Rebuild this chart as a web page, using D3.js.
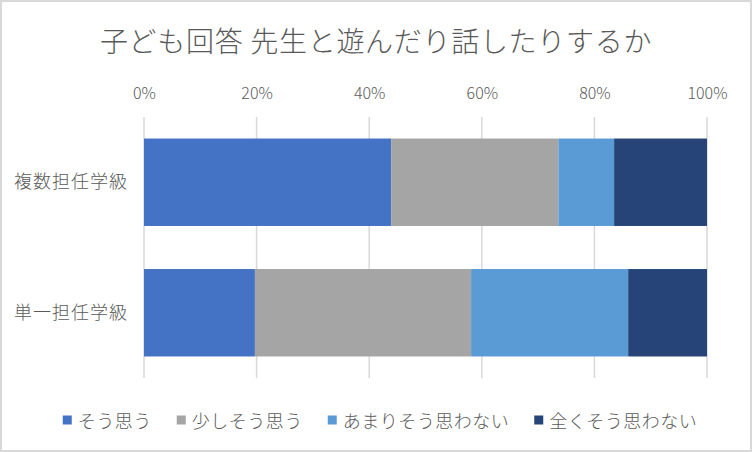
<!DOCTYPE html>
<html>
<head>
<meta charset="utf-8">
<script src="https://cdn.jsdelivr.net/npm/d3@7"></script>
<style>
  body { margin: 0; background: #fff; }
  text { font-family: "Noto Sans CJK JP", "Noto Sans", sans-serif; fill: #595959; font-weight: 300; }
</style>
</head>
<body>
<div id="chart"></div>
<script>
// data (percent)
var categories = ["複数担任学級", "単一担任学級"];
var seriesNames = ["そう思う", "少しそう思う", "あまりそう思わない", "全くそう思わない"];
var seriesColors = ["#4472C4", "#A5A5A5", "#5B9BD5", "#264478"];
var soOmou      = [43.9, 19.7];
var sukoshi     = [29.7, 38.4];
var amari       = [9.9, 27.9];
var mattaku     = [16.5, 14.0];
var tickValues  = [0, 20, 40, 60, 80, 100];

var W = 752, H = 452;
var margin = {top: 117, right: 45, bottom: 74, left: 144};
var width = W - margin.left - margin.right,
    height = H - margin.top - margin.bottom;

var svg = d3.select("#chart")
  .append("svg")
    .attr("width", W)
    .attr("height", H);

// outer border
svg.append("rect")
  .attr("x", 1).attr("y", 1)
  .attr("width", W - 2).attr("height", H - 2)
  .attr("fill", "#fff")
  .attr("stroke", "#D9D9D9")
  .attr("stroke-width", 2);

// title
svg.append("text")
  .attr("x", W / 2)
  .attr("y", 40)
  .attr("text-anchor", "middle")
  .attr("dominant-baseline", "central")
  .style("font-size", "28px")
  .style("letter-spacing", "0.7px")
  .text("子ども回答 先生と遊んだり話したりするか");

var g = svg.append("g")
  .attr("transform", "translate(" + margin.left + "," + margin.top + ")");

var x = d3.scaleLinear()
  .domain([0, 100])
  .range([0, width]);

var y = d3.scaleBand()
  .domain(categories)
  .range([0, height])
  .paddingInner(0.33)
  .paddingOuter(0.165);

// gridlines
g.append("g")
  .selectAll("line")
  .data(tickValues)
  .enter()
  .append("line")
    .attr("x1", d => x(d)).attr("x2", d => x(d))
    .attr("y1", 0).attr("y2", height)
    .attr("stroke", "#D9D9D9")
    .attr("stroke-width", 1.5);

// top axis labels
var xAxis = g.append("g")
  .call(d3.axisTop(x).tickValues(tickValues).tickFormat(d => d + "%").tickSize(0).tickPadding(0));
xAxis.select(".domain").remove();
xAxis.selectAll("text")
  .attr("y", -24)
  .attr("dy", "0.35em")
  .style("font-size", "16px")
  .style("font-family", "\"Noto Sans CJK JP\", sans-serif")
  .style("font-weight", "300")
  .style("fill", "#595959");

// stacked bars
var rows = categories.map(function (c, i) {
  return {cat: c, v: [soOmou[i], sukoshi[i], amari[i], mattaku[i]]};
});

rows.forEach(function (r) {
  var start = 0;
  r.v.forEach(function (val, j) {
    g.append("rect")
      .attr("x", x(start))
      .attr("y", y(r.cat))
      .attr("width", x(start + val) - x(start))
      .attr("height", y.bandwidth())
      .attr("fill", seriesColors[j]);
    start += val;
  });
});

// category labels
var yAxis = g.append("g")
  .call(d3.axisLeft(y).tickSize(0).tickPadding(16));
yAxis.select(".domain").remove();
yAxis.selectAll("text")
  .style("font-size", "18px")
  .style("font-family", "\"Noto Sans CJK JP\", sans-serif")
  .style("font-weight", "300")
  .style("letter-spacing", "1px")
  .style("fill", "#595959");

// legend
var legend = svg.append("g");
var lx = 0;
seriesNames.forEach(function (name, i) {
  var item = legend.append("g").attr("transform", "translate(" + lx + ",0)");
  item.append("rect")
    .attr("x", 0).attr("y", -4.5)
    .attr("width", 9).attr("height", 9)
    .attr("fill", seriesColors[i]);
  var t = item.append("text")
    .attr("x", 15)
    .attr("y", 0)
    .attr("dominant-baseline", "central")
    .style("font-size", "18px")
    .style("letter-spacing", "0.5px")
    .text(name);
  lx += 15 + t.node().getComputedTextLength() + 25;
});
var legendW = lx - 25;
legend.attr("transform", "translate(" + (380 - legendW / 2) + ",420)");
</script>
</body>
</html>
